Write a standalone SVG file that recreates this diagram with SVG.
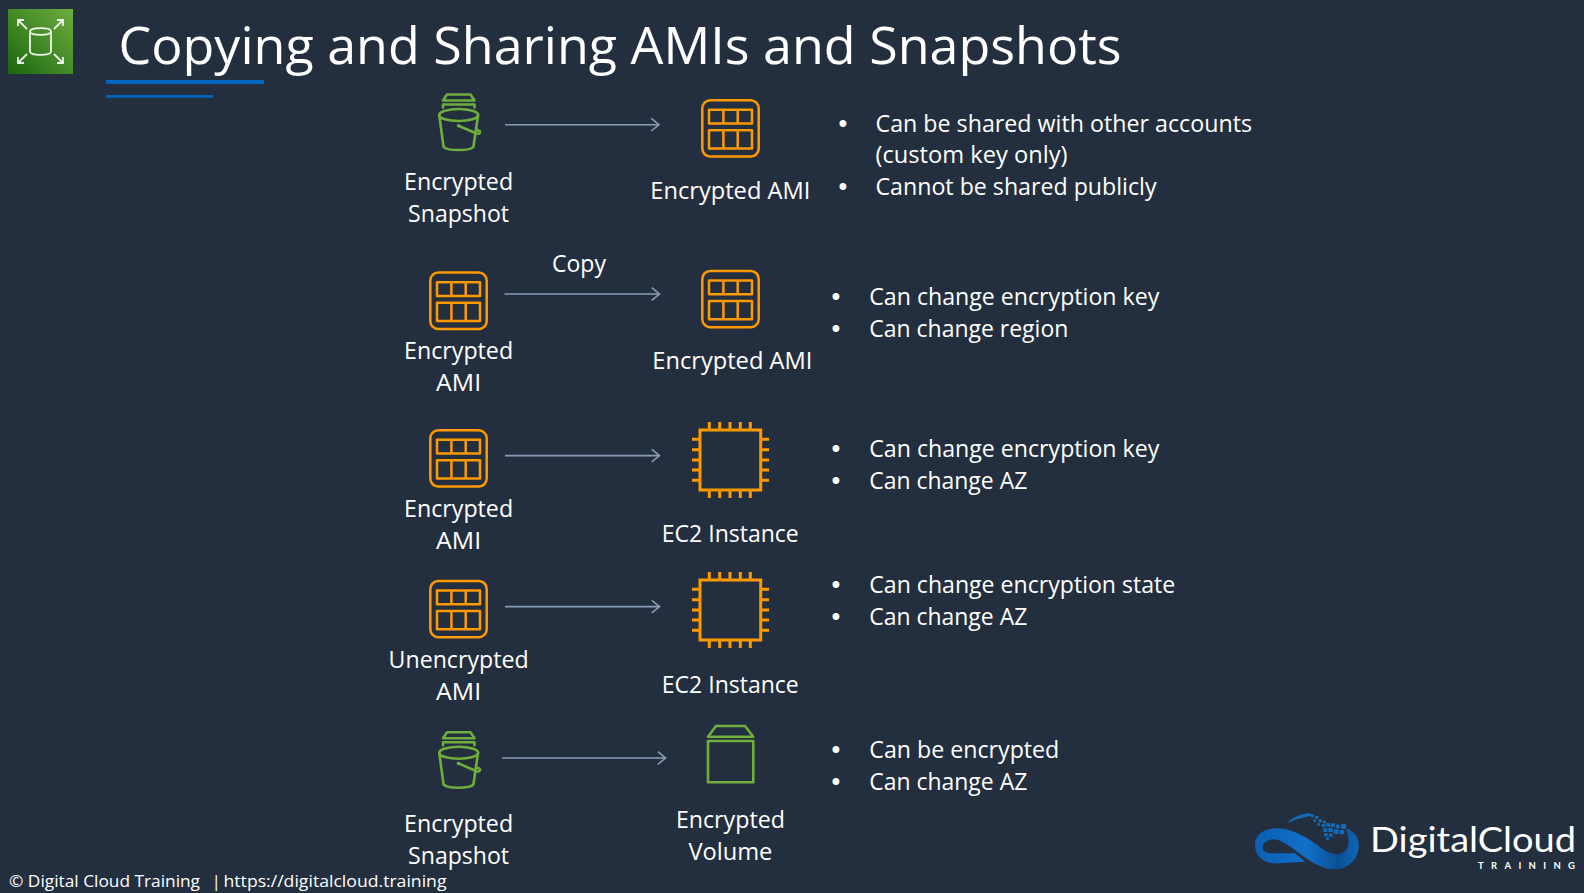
<svg xmlns="http://www.w3.org/2000/svg" width="1584" height="893" viewBox="0 0 1584 893">
<style>
text{font-family:"Open Sans","Noto Sans","Liberation Sans",sans-serif;fill:#fff;white-space:pre}
.t{font-size:52px}
.l{font-size:22.8px;text-anchor:middle;transform:translateY(.4px)}
.b{font-size:22.8px;transform:translateY(.4px)}
.u{font-size:25px;font-family:"Liberation Sans",sans-serif}
.f{font-size:17.2px}
.o{fill:none;stroke:#F90;stroke-width:2.5;stroke-linejoin:round}
.c{fill:none;stroke:#F90;stroke-width:3}
.g{fill:none;stroke:#6FAE3C;stroke-width:2.6;stroke-linejoin:round;stroke-linecap:round}
.w{fill:none;stroke:#fff;stroke-width:1.8}
.a{fill:none;stroke:#8A9DB8;stroke-width:1.6}
.d{fill:#0F6CBD}
</style>
<defs>
<linearGradient id="lg" x1="0" y1="1" x2="1" y2="0"><stop offset="0" stop-color="#1B660F"/><stop offset="1" stop-color="#6CAE3E"/></linearGradient>
<linearGradient id="bl" x1="0" y1="0" x2="1" y2="0"><stop offset="0" stop-color="#0A5FB4"/><stop offset=".5" stop-color="#1270C8"/><stop offset=".8" stop-color="#0B4F94"/><stop offset="1" stop-color="#0E66B8"/></linearGradient>
<marker id="ah" markerUnits="userSpaceOnUse" markerWidth="12" markerHeight="16" refX="9" refY="7.5" orient="auto"><path d="M1.3 1.2L9 7.5L1.3 13.8" class="a"/></marker>
<g id="ami"><rect x="702.3" y="100.2" width="56.4" height="56.4" rx="8" class="o"/><path d="M709 109.8H752V123.5H709ZM709 130.3H752V148.5H709ZM723.4 109.8V123.5M737.7 109.8V123.5M723.4 130.3V148.5M737.7 130.3V148.5" class="o"/></g>
<g id="bucket"><path d="M443 100.5L447 94.5H470.5L474.5 100.5ZM443 107.5V104.5H474.5V107.5" class="g"/><ellipse cx="458.7" cy="115" rx="19.5" ry="6" class="g"/><path d="M439.3 115.5L443.6 147C447 151 470 151 473.4 147L478 115.5" class="g"/><path d="M458.5 125.7L476.5 133.5C479 134.5 481 132.5 479.5 131L477 129.8" class="g"/><circle cx="458.5" cy="125.7" r="1.8" fill="#6FAE3C"/></g>
<g id="chip"><rect x="700" y="430" width="60.7" height="60" class="c"/><path d="M709.3 422V430M719.7 422V430M730 422V430M740.3 422V430M750.3 422V430M709.3 490V498M719.7 490V498M730 490V498M740.3 490V498M750.3 490V498M692 439.3H700M692 449.7H700M692 460H700M692 470H700M692 480.3H700M760.7 439.3H769M760.7 449.7H769M760.7 460H769M760.7 470H769M760.7 480.3H769" class="c"/></g>
</defs>
<rect width="1584" height="893" fill="#232F3E"/>
<g id="header">
<rect x="8" y="9" width="65" height="65" fill="url(#lg)"/>
<path d="M30 31.5V51.5C30 56 51 56 51 51.5V31.5C51 27 30 27 30 31.5C30 36 51 36 51 31.5M18 20L27 29M18 26V20H24M63 20L54 29M63 26V20H57M18 63L27 54M18 57V63H24M63 63L54 54M63 57V63H57" class="w" stroke-opacity=".9"/>
<text class="t" x="118.5" y="63.5" textLength="1003" lengthAdjust="spacingAndGlyphs">Copying and Sharing AMIs and Snapshots</text>
<rect x="106" y="80" width="158" height="4" fill="#0066C0"/>
<rect x="106" y="95" width="107" height="2.7" fill="#0066C0"/>
</g>
<g id="connectors">
<path d="M505 124.7H659" class="a" marker-end="url(#ah)"/>
<path d="M504.5 294H659.5" class="a" marker-end="url(#ah)"/>
<path d="M505 455.6H659.5" class="a" marker-end="url(#ah)"/>
<path d="M505 606.6H659.5" class="a" marker-end="url(#ah)"/>
<path d="M502 758H665.5" class="a" marker-end="url(#ah)"/>
</g>
<g id="n1-source"><use href="#bucket"/><text class="l" x="458.6" y="190" textLength="109" lengthAdjust="spacingAndGlyphs">Encrypted</text><text class="l" x="458.6" y="222" textLength="101" lengthAdjust="spacingAndGlyphs">Snapshot</text></g>
<g id="n1-target"><use href="#ami"/><text class="l" x="730.3" y="199" textLength="160" lengthAdjust="spacingAndGlyphs">Encrypted AMI</text></g>
<g id="n2-source"><use href="#ami" x="-272" y="172.4"/><text class="l" x="458.6" y="358.6" textLength="109" lengthAdjust="spacingAndGlyphs">Encrypted</text><text class="l" x="458.6" y="391" textLength="45" lengthAdjust="spacingAndGlyphs">AMI</text></g>
<g id="n2-target"><use href="#ami" y="170.7"/><text class="l" x="732.3" y="369" textLength="160" lengthAdjust="spacingAndGlyphs">Encrypted AMI</text></g>
<text id="copy-label" class="l" x="579" y="272" textLength="54" lengthAdjust="spacingAndGlyphs">Copy</text>
<g id="n3-source"><use href="#ami" x="-272" y="330"/><text class="l" x="458.6" y="517" textLength="109" lengthAdjust="spacingAndGlyphs">Encrypted</text><text class="l" x="458.6" y="548.5" textLength="45" lengthAdjust="spacingAndGlyphs">AMI</text></g>
<g id="n3-target"><use href="#chip"/><text class="l" x="730.3" y="541.5" textLength="137" lengthAdjust="spacingAndGlyphs">EC2 Instance</text></g>
<g id="n4-source"><use href="#ami" x="-272" y="480.7"/><text class="l" x="458.6" y="668" textLength="140" lengthAdjust="spacingAndGlyphs">Unencrypted</text><text class="l" x="458.6" y="700" textLength="45" lengthAdjust="spacingAndGlyphs">AMI</text></g>
<g id="n4-target"><use href="#chip" y="150"/><text class="l" x="730.3" y="693" textLength="137" lengthAdjust="spacingAndGlyphs">EC2 Instance</text></g>
<g id="n5-source"><use href="#bucket" y="637.7"/><text class="l" x="458.6" y="832" textLength="109" lengthAdjust="spacingAndGlyphs">Encrypted</text><text class="l" x="458.6" y="864" textLength="101" lengthAdjust="spacingAndGlyphs">Snapshot</text></g>
<g id="n5-target"><path d="M708 741H753.3V782.3H708ZM708 736.7L716 726H745L753.3 736.7Z" class="g"/><text class="l" x="730.4" y="828" textLength="109" lengthAdjust="spacingAndGlyphs">Encrypted</text><text class="l" x="730.4" y="860" textLength="84" lengthAdjust="spacingAndGlyphs">Volume</text></g>
<g id="notes">
<text class="u" x="838.5" y="132">•</text><text class="b" x="875.5" y="132" textLength="376.5" lengthAdjust="spacingAndGlyphs">Can be shared with other accounts</text>
<text class="b" x="875.5" y="163" textLength="192" lengthAdjust="spacingAndGlyphs">(custom key only)</text>
<text class="u" x="838.5" y="195">•</text><text class="b" x="875.5" y="195" textLength="281" lengthAdjust="spacingAndGlyphs">Cannot be shared publicly</text>
<text class="u" x="831.5" y="305">•</text><text class="b" x="869.3" y="305" textLength="290" lengthAdjust="spacingAndGlyphs">Can change encryption key</text>
<text class="u" x="831.5" y="337">•</text><text class="b" x="869.3" y="337" textLength="199" lengthAdjust="spacingAndGlyphs">Can change region</text>
<text class="u" x="831.5" y="456.6">•</text><text class="b" x="869.3" y="456.6" textLength="290" lengthAdjust="spacingAndGlyphs">Can change encryption key</text>
<text class="u" x="831.5" y="489">•</text><text class="b" x="869.3" y="489" textLength="158" lengthAdjust="spacingAndGlyphs">Can change AZ</text>
<text class="u" x="831.5" y="593">•</text><text class="b" x="869.3" y="593" textLength="306" lengthAdjust="spacingAndGlyphs">Can change encryption state</text>
<text class="u" x="831.5" y="625">•</text><text class="b" x="869.3" y="625" textLength="158" lengthAdjust="spacingAndGlyphs">Can change AZ</text>
<text class="u" x="831.5" y="757.7">•</text><text class="b" x="869.3" y="757.7" textLength="190" lengthAdjust="spacingAndGlyphs">Can be encrypted</text>
<text class="u" x="831.5" y="790">•</text><text class="b" x="869.3" y="790" textLength="158" lengthAdjust="spacingAndGlyphs">Can change AZ</text>
</g>
<g id="footer">
<text class="f" x="9" y="887" textLength="191" lengthAdjust="spacingAndGlyphs">© Digital Cloud Training</text>
<text class="f" x="211.5" y="887">|</text>
<text class="f" x="223.5" y="887" textLength="223" lengthAdjust="spacingAndGlyphs">https://digitalcloud.training</text>
</g>
<g id="logo">
<g transform="translate(1240 800) scale(.3333)">
<path fill="url(#bl)" d="M45 135C45 100 80 83 115 85C165 88 205 115 245 145C270 163 300 172 318 150C330 135 325 105 318 85C345 95 358 115 356 140C354 180 320 208 285 208C240 208 205 180 165 150C140 133 120 118 100 118C80 118 68 130 68 143C68 155 85 162 110 160L165 160L195 185L120 190C75 195 45 170 45 135Z"/>
<path class="d" d="M140 70C155 55 180 42 205 40L225 44L200 50C180 54 160 60 140 70Z"/>
<path class="d" d="M212 44h9v8h-9zM225 48h10v8h-10zM220 58h8v7h-8zM236 58h10v9h-10zM249 62h9v8h-9zM232 70h8v7h-8zM245 72h11v10h-11zM259 70h11v10h-11zM272 70h12v11h-12zM287 74h12v11h-12zM303 72h15v14h-15zM250 85h12v11h-12zM265 84h13v12h-13zM281 88h15v13h-15zM299 90h14v13h-14zM252 100h11v9h-11zM267 101h11v9h-11zM258 112h9v7h-9z"/>
</g>
<text x="1370" y="851.7" font-size="34" textLength="206" lengthAdjust="spacingAndGlyphs" style="font-family:Lato,'Open Sans',sans-serif;font-weight:400">DigitalCloud</text>
<text x="1478" y="869" font-size="9.5" font-weight="700" textLength="97" lengthAdjust="spacing" style="font-family:Lato,'Open Sans',sans-serif">TRAINING</text>
</g>
</svg>
